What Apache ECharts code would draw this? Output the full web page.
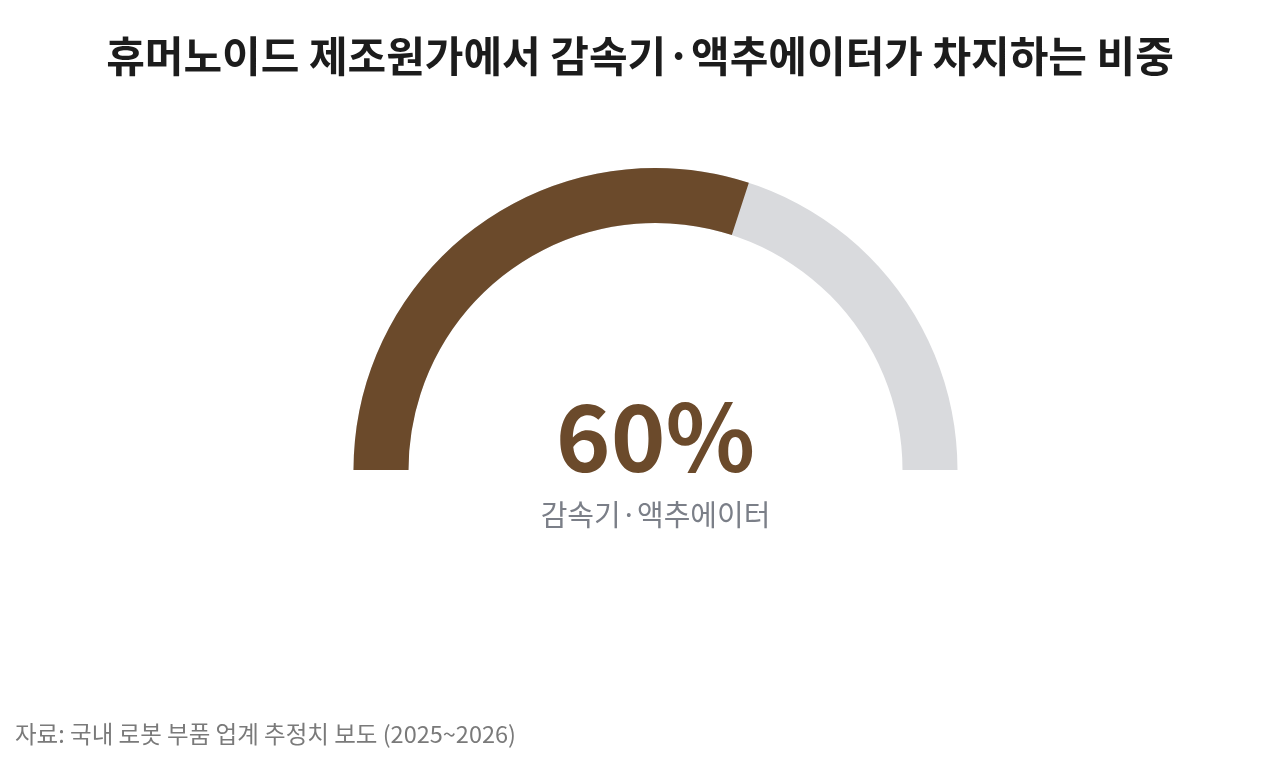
<!DOCTYPE html>
<html>
<head>
<meta charset="utf-8">
<script src="https://cdn.jsdelivr.net/npm/echarts@6/dist/echarts.min.js"></script>
<style>
  html, body { margin: 0; padding: 0; background: #fff; }
  #chart { width: 1280px; height: 762px; }
</style>
</head>
<body>
<div id="chart"></div>
<script>
// 데이터
const titleText = '휴머노이드 제조원가에서 감속기·액추에이터가 차지하는 비중'
const sourceText = '자료: 국내 로봇 부품 업계 추정치 보도 (2025~2026)'
const gaugeName = '감속기·액추에이터'
const gaugeValue = 60
const gaugeMax = 100

const font = '"Noto Sans CJK KR", "Noto Sans", sans-serif'

const myChart = echarts.init(document.getElementById('chart'))

const option = {
  backgroundColor: '#ffffff',
  title: [
    {
      text: titleText,
      left: 'center',
      top: 30,
      textStyle: { fontFamily: font, fontSize: 42, fontWeight: 'bold', color: '#1c1c1c' }
    },
    {
      text: sourceText,
      left: 10,
      top: 717,
      textStyle: { fontFamily: font, fontSize: 23.5, fontWeight: 'normal', color: '#7a7a7a' }
    }
  ],
  series: [{
    type: 'gauge',
    center: [655.5, 470],
    radius: 302,
    startAngle: 180,
    endAngle: 0,
    min: 0,
    max: gaugeMax,
    progress: {
      show: true,
      width: 55,
      roundCap: false,
      itemStyle: { color: '#6b4a2b' }
    },
    axisLine: {
      roundCap: false,
      lineStyle: { width: 55, color: [[1, '#d9dadd']] }
    },
    pointer: { show: false },
    axisTick: { show: false },
    splitLine: { show: false },
    axisLabel: { show: false },
    anchor: { show: false },
    title: {
      show: true,
      offsetCenter: [0, 45],
      fontFamily: font,
      fontSize: 29,
      color: '#7b7f88'
    },
    detail: {
      valueAnimation: false,
      offsetCenter: [0, -33],
      formatter: '{value}%',
      fontFamily: font,
      fontSize: 93,
      fontWeight: 'bold',
      color: '#6b4a2b'
    },
    data: [{ value: gaugeValue, name: gaugeName }],
    animation: false
  }]
}
myChart.setOption(option)
</script>
</body>
</html>
